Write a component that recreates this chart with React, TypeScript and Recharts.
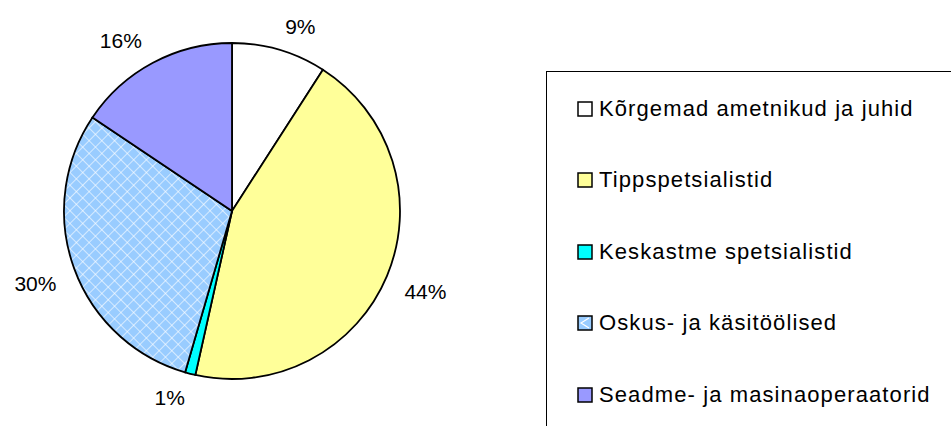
import { PieChart, Pie, Cell, Legend } from "recharts";

const categories = [
  "Kõrgemad ametnikud ja juhid",
  "Tippspetsialistid",
  "Keskastme spetsialistid",
  "Oskus- ja käsitöölised",
  "Seadme- ja masinaoperaatorid",
];
const shares = [9.1, 44.4, 1.0, 29.9, 15.6];
const colors = ["#FFFFFF", "#FFFF99", "#00FFFF", "url(#grid)", "#9999FF"];
const swatch = ["#FFFFFF", "#FFFF99", "#00FFFF", "#99CCFF", "#9999FF"];

const data = categories.map((name, i) => ({ name, value: shares[i] }));
const FONT = "'Liberation Sans', Arial, sans-serif";
const RAD = Math.PI / 180;

// Excel-ish label placement: box corner touches a circle just outside the pie
const renderLabel = (p: any) => {
  const txt = `${Math.round(p.percent * 100)}%`;
  const r = p.outerRadius + 14;
  const ux = Math.cos(-p.midAngle * RAD);
  const uy = Math.sin(-p.midAngle * RAD);
  const hw = txt.length * 8.5;
  const x = p.cx + r * ux + Math.sign(ux) * hw;
  const y = p.cy + r * uy + Math.sign(uy) * 10;
  return (
    <text x={x} y={y} textAnchor="middle" dominantBaseline="central" fontSize={21} fontFamily={FONT} fill="#000">
      {txt}
    </text>
  );
};

const LegendBox = () => (
  <div
    style={{
      width: 420,
      height: 380,
      border: "1.5px solid #000",
      boxSizing: "border-box",
      background: "#fff",
      fontFamily: FONT,
      fontSize: 22,
      letterSpacing: 1.1,
      paddingTop: 1,
      paddingLeft: 30,
    }}
  >
    {categories.map((c, i) => (
      <div key={c} style={{ display: "flex", alignItems: "center", height: 71.5 }}>
        <svg width={16} height={16} style={{ marginRight: 6 }}>
          <rect x={1} y={1} width={14} height={14} fill={swatch[i]} stroke="#000" strokeWidth={1.5} />
          {i === 3 && <path d="M12 3 L4 8 L12 13" stroke="#fff" strokeWidth={1.2} fill="none" />}
        </svg>
        <span style={{ whiteSpace: "nowrap", lineHeight: 1 }}>{c}</span>
      </div>
    ))}
  </div>
);

export default function App() {
  return (
    <div style={{ position: "absolute", left: 0, top: 0, width: 951, height: 426, overflow: "hidden", background: "#fff" }}>
      <PieChart width={951} height={426} margin={{ top: 0, right: 0, bottom: 0, left: 0 }}>
        <defs>
          <pattern id="grid" width={9} height={9} patternUnits="userSpaceOnUse" patternTransform="rotate(45)">
            <rect width={9} height={9} fill="#99CCFF" />
            <line x1={0} y1={0} x2={9} y2={0} stroke="#fff" strokeWidth={1.4} strokeOpacity={0.85} />
            <line x1={0} y1={0} x2={0} y2={9} stroke="#fff" strokeWidth={1.4} strokeOpacity={0.85} />
          </pattern>
        </defs>
        <Pie
          data={data}
          dataKey="value"
          nameKey="name"
          cx={232}
          cy={211}
          outerRadius={168}
          startAngle={90}
          endAngle={-270}
          stroke="#000"
          strokeWidth={1.8}
          label={renderLabel}
          labelLine={false}
          isAnimationActive={false}
        >
          {data.map((d, i) => (
            <Cell key={d.name} fill={colors[i]} />
          ))}
        </Pie>
        <Legend
          content={() => <LegendBox />}
          wrapperStyle={{ left: 546, top: 71, width: 420 }}
        />
      </PieChart>
    </div>
  );
}
